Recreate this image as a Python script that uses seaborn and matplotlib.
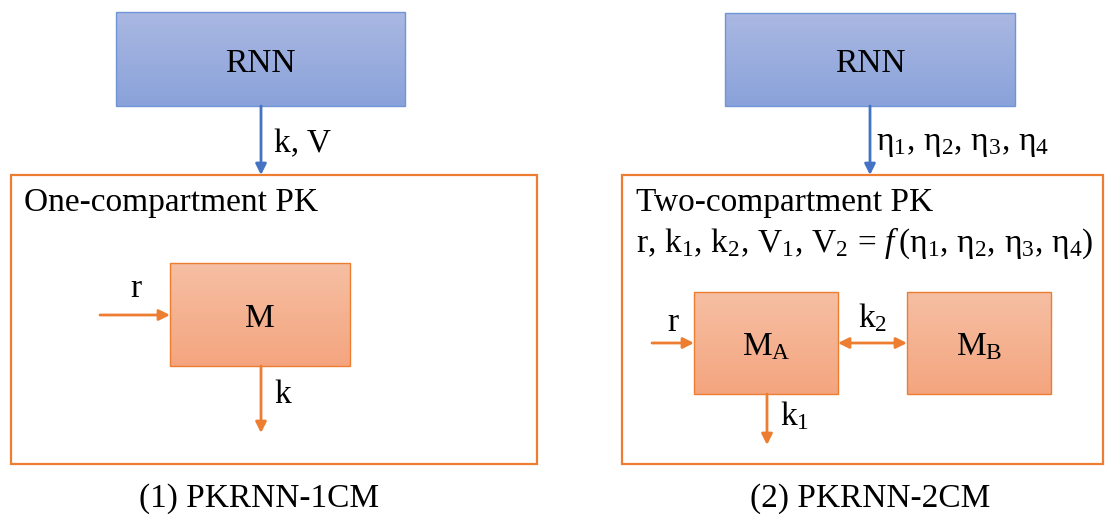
import numpy as np
import matplotlib
matplotlib.use("Agg")
import matplotlib.pyplot as plt
from matplotlib.patches import Rectangle
from matplotlib.colors import LinearSegmentedColormap
import seaborn as sns

# ── labels ───────────────────────────────────────────────
captions     = ["(1) PKRNN-1CM", "(2) PKRNN-2CM"]
model_titles = ["One-compartment PK", "Two-compartment PK"]
rnn_outputs  = ["k, V", r"$\mathrm{η_1,\,η_2,\,η_3,\,η_4}$"]
param_line   = r"$\mathrm{r,\,k_1,\,k_2,\,V_1,\,V_2}\,=\,\mathit{f}\,\mathrm{(η_1,\,η_2,\,η_3,\,η_4)}$"
one_cm_nodes = ["M"]
two_cm_nodes = [r"$\mathrm{M_A}$", r"$\mathrm{M_B}$"]
flow_labels  = {"in": "r", "out1": "k", "out2": r"$\mathrm{k_1}$", "exch": r"$\mathrm{k_2}$"}

BLUE_TOP, BLUE_BOT, BLUE_EDGE = "#AAB8E2", "#8AA2DA", "#6F95D6"
ORG_TOP, ORG_BOT, ORG_EDGE = "#F6BFA3", "#F4A57F", "#ED7D31"
ARROW_BLUE = "#4472C4"

sns.set_theme(style="white")
plt.rcParams["font.family"] = ["Liberation Serif", "DejaVu Serif"]
plt.rcParams["text.color"] = "black"
plt.rcParams["mathtext.fontset"] = "custom"
plt.rcParams["mathtext.rm"] = "Liberation Serif"
plt.rcParams["mathtext.it"] = "Liberation Serif:italic"

fig = plt.figure(figsize=(11.05, 5.14), dpi=100)
ax = fig.add_axes([0, 0, 1, 1])
ax.set_axis_off()


def grad_box(x0, y0, x1, y1, top, bot, edge, lw=1.0):
    cmap = LinearSegmentedColormap.from_list("g", [top, bot])
    ax.imshow(np.linspace(0, 1, 100)[:, None], extent=(x0, x1, y1, y0),
              cmap=cmap, aspect="auto", origin="upper", zorder=1)
    ax.add_patch(Rectangle((x0, y0), x1 - x0, y1 - y0, fill=False,
                           edgecolor=edge, lw=lw, zorder=2))


def arrow(p0, p1, color, style="-|>"):
    ax.annotate("", xy=p1, xytext=p0,
                arrowprops=dict(arrowstyle=style, color=color, lw=2.0,
                                mutation_scale=16, shrinkA=0, shrinkB=0),
                zorder=3)


FS = 24

# ── panel 1 ──────────────────────────────────────────────
grad_box(116, 12, 405, 106, BLUE_TOP, BLUE_BOT, BLUE_EDGE)
ax.text(260, 72, "RNN", ha="center", va="baseline", fontsize=FS)
arrow((261, 106), (261, 175), ARROW_BLUE)
ax.text(274, 152, rnn_outputs[0], ha="left", va="baseline", fontsize=FS)
ax.add_patch(Rectangle((11, 175), 526, 289, fill=False, edgecolor=ORG_EDGE, lw=1.6, zorder=2))
ax.text(24, 211, model_titles[0], ha="left", va="baseline", fontsize=FS)
grad_box(170, 263, 350, 366, ORG_TOP, ORG_BOT, ORG_EDGE)
ax.text(260, 327, one_cm_nodes[0], ha="center", va="baseline", fontsize=FS)
arrow((100, 315), (170, 315), ORG_EDGE)
ax.text(136, 297, flow_labels["in"], ha="center", va="baseline", fontsize=FS)
arrow((261, 366), (261, 433), ORG_EDGE)
ax.text(274, 403, flow_labels["out1"], ha="left", va="baseline", fontsize=FS)
ax.text(259, 507, captions[0], ha="center", va="baseline", fontsize=24)

# ── panel 2 ──────────────────────────────────────────────
grad_box(725, 13, 1015, 106, BLUE_TOP, BLUE_BOT, BLUE_EDGE)
ax.text(870, 72, "RNN", ha="center", va="baseline", fontsize=FS)
arrow((870, 106), (870, 175), ARROW_BLUE)
ax.text(876, 150, rnn_outputs[1], ha="left", va="baseline", fontsize=FS)
ax.add_patch(Rectangle((622, 175), 481, 289, fill=False, edgecolor=ORG_EDGE, lw=1.6, zorder=2))
ax.text(636, 211, model_titles[1], ha="left", va="baseline", fontsize=FS)
ax.text(636, 252, param_line, ha="left", va="baseline", fontsize=FS)
grad_box(694, 292, 838, 394, ORG_TOP, ORG_BOT, ORG_EDGE)
grad_box(907, 292, 1051, 394, ORG_TOP, ORG_BOT, ORG_EDGE)
ax.text(766, 355, two_cm_nodes[0], ha="center", va="baseline", fontsize=FS)
ax.text(979, 355, two_cm_nodes[1], ha="center", va="baseline", fontsize=FS)
arrow((652, 343), (694, 343), ORG_EDGE)
ax.text(673, 331, flow_labels["in"], ha="center", va="baseline", fontsize=FS)
arrow((838, 343), (907, 343), ORG_EDGE, style="<|-|>")
ax.text(858, 327, flow_labels["exch"], ha="left", va="baseline", fontsize=FS)
arrow((767, 394), (767, 445), ORG_EDGE)
ax.text(780, 425, flow_labels["out2"], ha="left", va="baseline", fontsize=FS)
ax.text(870, 507, captions[1], ha="center", va="baseline", fontsize=24)

ax.set_xlim(0, 1105)
ax.set_ylim(514, 0)
fig.savefig("out.png", dpi=100, facecolor="white")
